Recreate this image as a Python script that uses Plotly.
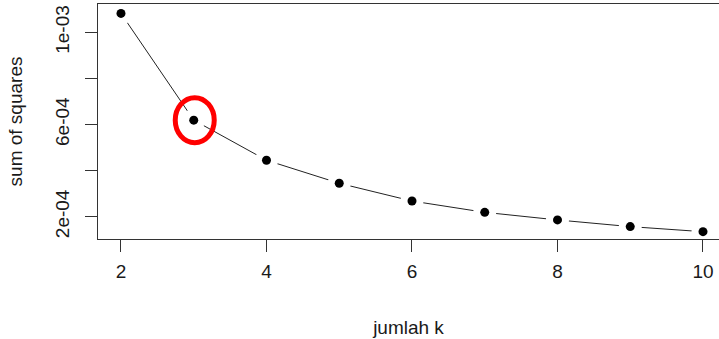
import plotly.graph_objects as go

# Elbow method: within-cluster sum of squares for each number of clusters
k_values = [2, 3, 4, 5, 6, 7, 8, 9, 10]
sum_sq = [1.082e-3, 6.19e-4, 4.45e-4, 3.45e-4, 2.68e-4, 2.19e-4, 1.86e-4, 1.57e-4, 1.35e-4]

x_ticks = [2, 4, 6, 8, 10]
x_ticklabels = ["2", "4", "6", "8", "10"]
y_ticks = [2e-4, 4e-4, 6e-4, 8e-4, 1e-3]
y_ticklabels = ["2e-04", "", "6e-04", "", "1e-03"]

chosen_k = 3  # highlighted elbow

FONT = "Liberation Sans, Arial, sans-serif"
INK = "#1a1a1a"

fig = go.Figure()

# connecting line
fig.add_trace(go.Scatter(
    x=k_values, y=sum_sq, mode="lines",
    line=dict(color="#222222", width=1), hoverinfo="skip", showlegend=False,
))
# white discs leave a gap in the line around each point (type="b" look)
fig.add_trace(go.Scatter(
    x=k_values, y=sum_sq, mode="markers",
    marker=dict(color="white", size=23, line=dict(width=0)),
    hoverinfo="skip", showlegend=False,
))
# points
fig.add_trace(go.Scatter(
    x=k_values, y=sum_sq, mode="markers",
    marker=dict(color="black", size=9, line=dict(width=0)),
    showlegend=False,
))

# red ring around the chosen k
ci = k_values.index(chosen_k)
fig.add_shape(
    type="circle", xref="x", yref="y",
    xsizemode="pixel", ysizemode="pixel",
    xanchor=k_values[ci], yanchor=sum_sq[ci],
    x0=-18.5, x1=20.5, y0=-22.5, y1=22.5,
    line=dict(color="#ff0000", width=5), layer="above",
)

fig.update_layout(
    width=719, height=339,
    margin=dict(l=98, r=0, t=4, b=100),
    paper_bgcolor="white", plot_bgcolor="white",
    font=dict(family=FONT, size=19, color=INK),
    xaxis=dict(
        range=[1.684, 10.22], automargin=False,
        tickvals=x_ticks, ticktext=x_ticklabels,
        ticks="outside", ticklen=12, tickwidth=1, tickcolor="#333333",
        showline=True, linecolor="#333333", linewidth=1, mirror=True,
        showgrid=False, zeroline=False,
        ticklabelstandoff=3,
        title=dict(text="jumlah k", standoff=39, font=dict(size=19)),
    ),
    yaxis=dict(
        range=[1.033e-4, 1.1228e-3], automargin=False,
        tickvals=y_ticks, ticktext=y_ticklabels, tickangle=-90,
        ticks="outside", ticklen=12, tickwidth=1, tickcolor="#333333",
        showline=True, linecolor="#333333", linewidth=1, mirror=False,
        showgrid=False, zeroline=False,
        ticklabelstandoff=8,
        title=dict(text="sum of squares", standoff=24, font=dict(size=19)),
    ),
)

fig.write_html("out.html")
